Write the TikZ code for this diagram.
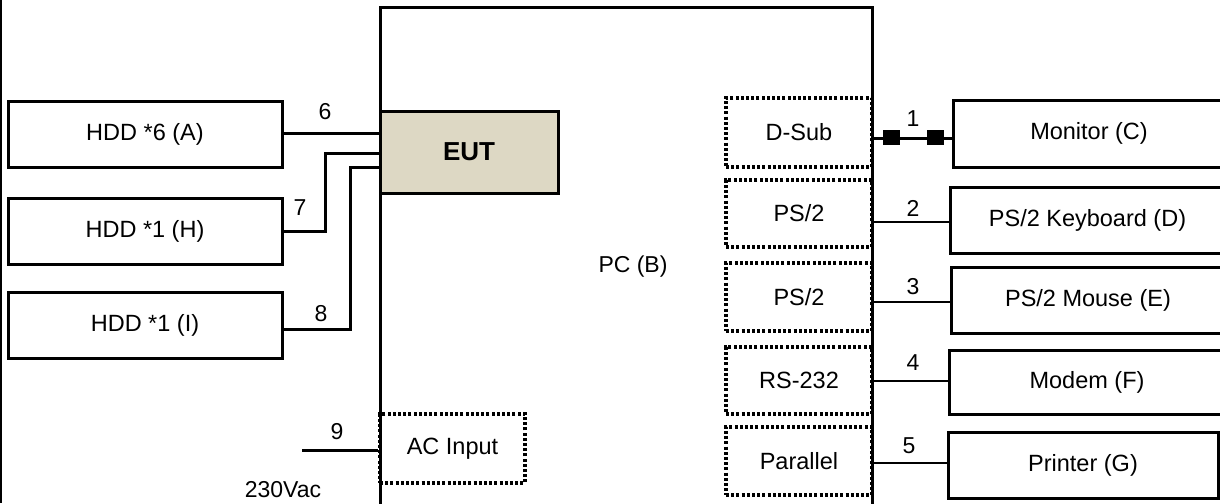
\documentclass[tikz,border=0pt]{standalone}
\usepackage{fontspec}
\setmainfont{Liberation Sans}
\definecolor{eutfill}{RGB}{221,216,196}
\tikzset{
  box/.style={draw=black, line width=3pt, inner sep=0pt, font=\fontsize{23.5}{28}\selectfont, align=center},
  portbox/.style={draw=black, line width=3.2pt, dash pattern=on 3pt off 2.2pt, inner sep=0pt, font=\fontsize{23.5}{28}\selectfont},
  wire/.style={line width=3pt},
  lbl/.style={inner sep=0pt, font=\fontsize{23}{28}\selectfont},
  plug/.style={fill=black, draw=none, minimum width=17pt, minimum height=15pt, inner sep=0pt}
}
\begin{document}
\begin{tikzpicture}[x=1pt, y=-1pt]
\useasboundingbox (0,0) rectangle (1220,503);
\begin{scope}
\clip (0,0) rectangle (1220,503);
% outer frame edge
\draw[line width=1.5pt] (1,0) -- (1,503);
% port boxes (dotted)
\node[portbox, minimum width=146pt, minimum height=69pt] (dsub) at (799,132.5) {D-Sub};
\node[portbox, minimum width=146pt, minimum height=67pt] (ps2a) at (799,213.5) {PS/2};
\node[portbox, minimum width=146pt, minimum height=68pt] (ps2b) at (799,297) {PS/2};
\node[portbox, minimum width=146pt, minimum height=67pt] (rs) at (799,380.5) {RS-232};
\node[portbox, minimum width=146pt, minimum height=68pt] (par) at (799,461) {Parallel};
\node[portbox, minimum width=145pt, minimum height=69pt] (ac) at (452.5,448.5) {AC Input};
% PC
\node[box, minimum width=492pt, minimum height=552pt] (pc) at (626,284) {};
\node[lbl] (pclabel) at (633,267) {PC (B)};
% EUT
\node[box, fill=eutfill, minimum width=178pt, minimum height=82pt, font=\fontsize{26}{30}\selectfont\bfseries] (eut) at (469,152) {EUT};
% HDDs
\node[box, minimum width=274pt, minimum height=66pt] (hA) at (145,134) {HDD *6 (A)};
\node[box, minimum width=274pt, minimum height=66pt] (hH) at (145,231) {HDD *1 (H)};
\node[box, minimum width=274pt, minimum height=66pt] (hI) at (145,325) {HDD *1 (I)};
% peripherals
\node[box, minimum width=272pt, minimum height=67pt] (mon) at (1089,133.5) {Monitor (C)};
\node[box, minimum width=275pt, minimum height=66pt] (kbd) at (1087.5,220) {PS/2 Keyboard (D)};
\node[box, minimum width=274pt, minimum height=66pt] (mouse) at (1088,300) {PS/2 Mouse (E)};
\node[box, minimum width=276pt, minimum height=64pt] (modem) at (1087,382) {Modem (F)};
\node[box, minimum width=270pt, minimum height=66pt] (prn) at (1083,465) {Printer (G)};
% connectors left
\draw[wire] ([yshift=1pt]hA.east) -- ([yshift=1pt]hA.east -| eut.west);
\draw[wire] ([yshift=-1pt]eut.west) -| (325,231) -- (hH.east);
\draw[wire] ([yshift=-15pt]eut.west) -| (350,329) -- ([yshift=-4pt]hI.east);
% connectors right
\draw[wire] ([yshift=-4.5pt]mon.west -| pc.east) -- ([yshift=-4.5pt]mon.west);
\node[plug] (p1) at (891.5,137) {};
\node[plug] (p2) at (935.5,137) {};
\draw[wire, line width=2.5pt] ([yshift=-2pt]kbd.west -| pc.east) -- ([yshift=-2pt]kbd.west);
\draw[wire, line width=2.5pt] ([yshift=-2pt]mouse.west -| pc.east) -- ([yshift=-2pt]mouse.west);
\draw[wire, line width=2.5pt] ([yshift=1pt]modem.west -| pc.east) -- ([yshift=1pt]modem.west);
\draw[wire, line width=2.5pt] ([yshift=2pt]prn.west -| pc.east) -- ([yshift=2pt]prn.west);
% AC input
\coordinate (mains) at (302,450);
\draw[wire] (mains) -- (mains -| ac.west);
% labels
\node[lbl] (l6) at (325,112) {6};
\node[lbl] (l7) at (300,208) {7};
\node[lbl] (l8) at (321,314) {8};
\node[lbl] (l9) at (337,432) {9};
\node[lbl] (lv) at (283,490) {230Vac};
\node[lbl] (l1) at (913,119) {1};
\node[lbl] (l2) at (913,208) {2};
\node[lbl] (l3) at (913,287) {3};
\node[lbl] (l4) at (913,363) {4};
\node[lbl] (l5) at (909,446) {5};
\end{scope}
\end{tikzpicture}
\end{document}
